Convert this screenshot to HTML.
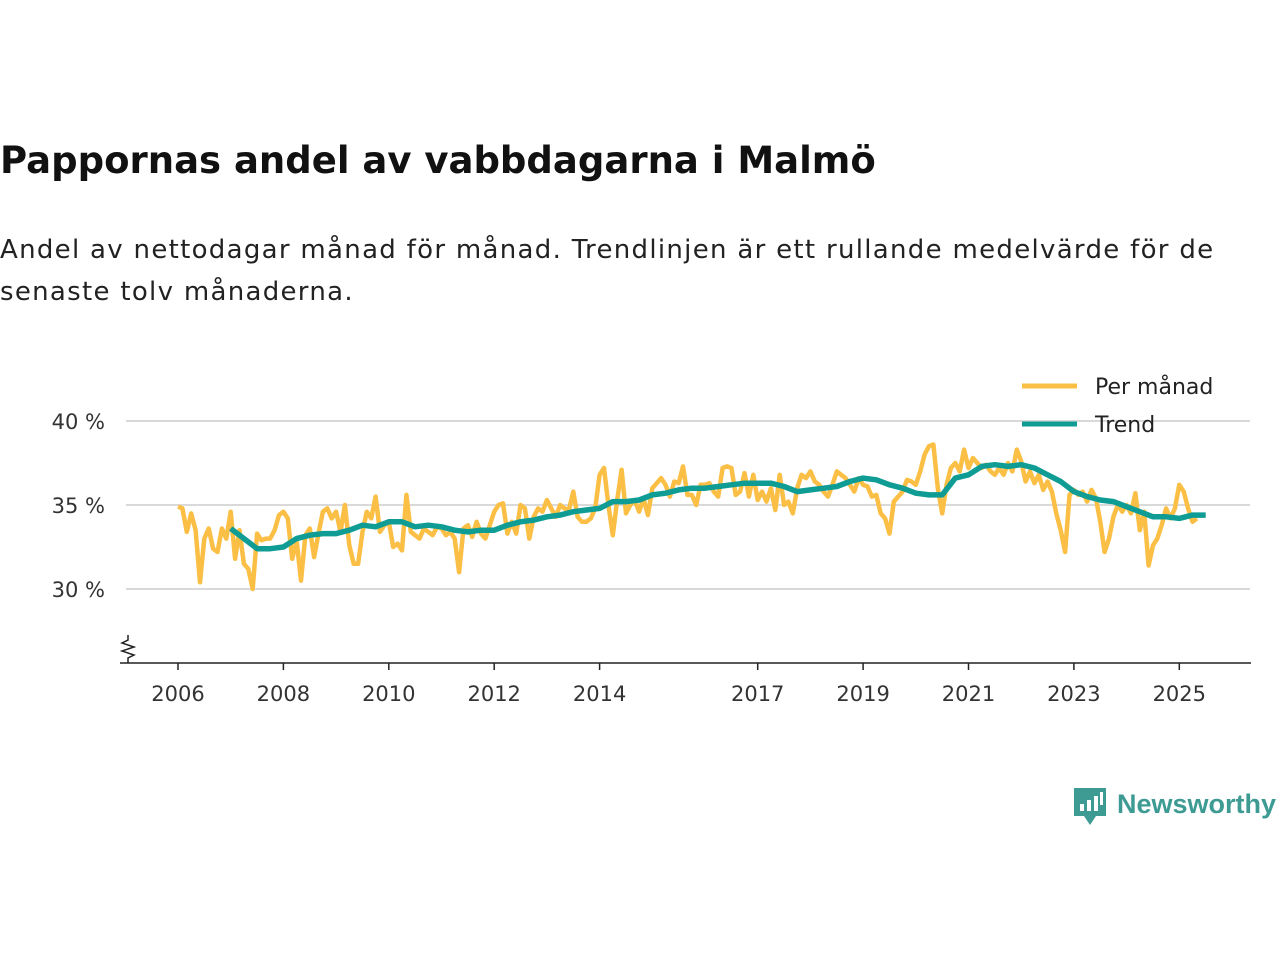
<!DOCTYPE html>
<html><head><meta charset="utf-8"><style>
body{margin:0;background:#fff;width:1280px;height:960px;overflow:hidden;font-family:"DejaVu Sans",sans-serif;}
#title{position:absolute;left:0;top:139px;font-size:37px;font-weight:bold;color:#111;margin:0;white-space:nowrap;}
#sub{position:absolute;left:0;top:229px;font-size:26px;letter-spacing:1.3px;color:#222;line-height:42px;width:1280px;white-space:nowrap;}
svg{position:absolute;left:0;top:0;}
</style></head><body>
<h1 id="title">Pappornas andel av vabbdagarna i Malmö</h1>
<div id="sub">Andel av nettodagar månad för månad. Trendlinjen är ett rullande medelvärde för de<br>senaste tolv månaderna.</div>
<svg id="chart" width="1280" height="960"></svg>
<script>
const monthly = [
34.9,34.8,33.4,34.5,33.5,30.4,33.0,33.6,32.4,32.2,33.6,33.0,
34.6,31.8,33.5,31.5,31.2,30.0,33.3,32.9,33.0,33.0,33.5,34.4,
34.6,34.2,31.8,32.9,30.5,33.2,33.6,31.9,33.3,34.6,34.8,34.2,
34.6,33.4,35.0,32.6,31.5,31.5,33.4,34.6,34.2,35.5,33.4,33.8,
34.0,32.5,32.7,32.3,35.6,33.4,33.2,33.0,33.6,33.4,33.2,33.7,
33.6,33.2,33.4,33.0,31.0,33.6,33.8,33.1,34.0,33.3,33.0,33.8,
34.6,35.0,35.1,33.3,34.0,33.3,35.0,34.8,33.0,34.3,34.8,34.6,
35.3,34.8,34.3,35.0,34.8,34.7,35.8,34.3,34.0,34.0,34.2,34.8,
36.8,37.2,35.0,33.2,35.3,37.1,34.5,35.0,35.3,34.6,35.4,34.4,
36.0,36.3,36.6,36.2,35.5,36.4,36.3,37.3,35.6,35.6,35.0,36.2,
36.2,36.3,35.8,35.5,37.2,37.3,37.2,35.6,35.8,36.9,35.5,36.8,
35.3,35.8,35.2,36.0,34.7,36.8,35.0,35.2,34.5,36.0,36.8,36.6,
37.0,36.4,36.2,35.8,35.5,36.2,37.0,36.8,36.6,36.2,35.8,36.6,
36.2,36.1,35.5,35.6,34.5,34.2,33.3,35.2,35.5,35.8,36.5,36.4,
36.2,37.0,38.0,38.5,38.6,36.0,34.5,36.2,37.2,37.5,37.0,38.3,
37.2,37.8,37.5,37.2,37.4,37.0,36.8,37.2,36.8,37.5,37.0,38.3,
37.6,36.4,37.0,36.3,36.8,35.9,36.4,35.8,34.5,33.5,32.2,35.6,
35.9,35.6,35.8,35.2,35.9,35.4,34.0,32.2,33.0,34.3,35.0,34.6,
35.0,34.5,35.7,33.5,34.6,31.4,32.6,33.0,33.8,34.8,34.2,34.8,
36.2,35.8,34.8,34.0,34.2];
const trend = [33.6,33.0,32.4,32.4,32.5,33.0,33.2,33.3,33.3,33.5,33.8,33.7,34.0,34.0,33.7,33.8,
33.7,33.5,33.4,33.5,33.5,33.8,34.0,34.1,34.3,34.4,34.6,34.7,34.8,35.2,35.2,35.3,
35.6,35.7,35.9,36.0,36.0,36.1,36.2,36.3,36.3,36.3,36.1,35.8,35.9,36.0,36.1,36.4,
36.6,36.5,36.2,36.0,35.7,35.6,35.6,36.6,36.8,37.3,37.4,37.3,37.4,37.2,36.8,36.4,
35.8,35.5,35.3,35.2,34.9,34.6,34.3,34.3,34.2,34.4,34.4];
const yTicks = [30,35,40];
const xTicks = [2006,2008,2010,2012,2014,2017,2019,2021,2023,2025];
const NS="http://www.w3.org/2000/svg";
const svg=document.getElementById('chart');
const X=t=>178+(t-2006)*52.7;
const Y=v=>421+(40-v)*16.8;
const FF='DejaVu Sans, sans-serif';
function el(tag,attrs,parent){const e=document.createElementNS(NS,tag);for(const k in attrs)e.setAttribute(k,attrs[k]);(parent||svg).appendChild(e);return e;}
yTicks.forEach(v=>{
  const g=el('line',{x1:126,x2:1250,y1:Y(v),y2:Y(v),stroke:'#d9d9d9','stroke-width':2});
  
  
  const t=el('text',{x:105,y:Y(v)+8,'text-anchor':'end','font-size':21,fill:'#333','font-family':FF});
  t.textContent=v+' %';
  
  
});
const ax=el('line',{x1:120,x2:1251,y1:663,y2:663,stroke:'#222','stroke-width':1.5});


const br=el('path',{d:'M128,635 L128,640 L122,643 L134,647 L122,651 L134,655 L128,658 L128,663',fill:'none',stroke:'#222','stroke-width':1.5});


xTicks.forEach(yr=>{
  const l=el('line',{x1:X(yr),x2:X(yr),y1:663,y2:670,stroke:'#222','stroke-width':1.5});
  
  
  const t=el('text',{x:X(yr),y:701,'text-anchor':'middle','font-size':21,fill:'#333','font-family':FF});
  t.textContent=yr;
  
  
});
const mp=monthly.map((v,i)=>X(2006+i/12).toFixed(1)+','+Y(v).toFixed(1)).join(' ');
const ml=el('polyline',{points:mp,fill:'none',stroke:'#fbbf45','stroke-width':4.5,'stroke-linejoin':'round'});


const tp=trend.map((v,i)=>X(2007+i/4).toFixed(1)+','+Y(v).toFixed(1)).join(' ');
const tl=el('polyline',{points:tp,fill:'none',stroke:'#0f9c94','stroke-width':5.5,'stroke-linejoin':'round'});


[['Per månad','#fbbf45',386],['Trend','#0f9c94',424]].forEach(([n,c,y])=>{
  const l=el('line',{x1:1022,x2:1077,y1:y,y2:y,stroke:c,'stroke-width':5});
  
  
  const t=el('text',{x:1095,y:y+8,'font-size':22,fill:'#222','font-family':FF});
  t.textContent=n;
  
  
});
</script>
<svg width="1280" height="960" style="pointer-events:none">
<path d="M1074,788 h32 v28 h-10 l-6,9 l-6,-9 h-10 z" fill="#3d9b94"/>
<rect x="1080" y="804" width="4" height="7" fill="#fff"/><rect x="1087" y="800" width="4" height="11" fill="#fff"/><rect x="1094" y="796" width="4" height="15" fill="#fff"/><rect x="1100" y="792" width="3" height="13" fill="#fff"/>
<text x="1117" y="813" font-size="27" font-weight="bold" fill="#3d9b94" font-family="Liberation Sans, sans-serif">Newsworthy</text>
</svg>
</body></html>
